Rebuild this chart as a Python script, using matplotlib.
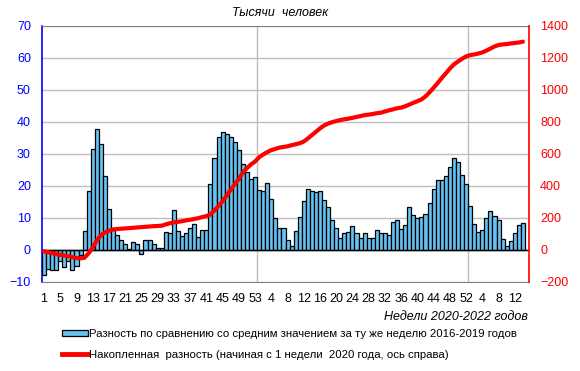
import matplotlib
matplotlib.use("Agg")
import matplotlib.pyplot as plt
import numpy as np
from matplotlib.patches import Patch
from matplotlib.lines import Line2D

plt.rcParams['font.family'] = ['Liberation Sans', 'DejaVu Sans']

# week numbers for each category (2020: 53 weeks, 2021: 52 weeks, 2022: 14 weeks)
weeks_2020 = list(range(1, 54))
weeks_2021 = list(range(1, 53))
weeks_2022 = list(range(1, 15))
week_labels = weeks_2020 + weeks_2021 + weeks_2022

# weekly difference vs 2016-2019 average (thousands)
diff_2020 = [-7.7, -5.9, -6.4, -6.2, -3.5, -5.3, -3.3, -6.2, -5.1, -1.5,
             5.8, 18.5, 31.7, 37.7, 33.0, 23.0, 12.9, 6.9, 4.8, 3.2,
             1.9, 0.4, 2.5, 1.8, -1.2, 3.1, 3.1, 1.8, 0.6, 0.6,
             5.6, 5.3, 12.6, 5.8, 4.5, 5.3, 6.9, 8.1, 4.2, 6.3,
             6.3, 20.6, 28.6, 35.2, 37.0, 36.3, 35.2, 33.8, 31.2, 26.9,
             24.5, 22.2, 22.9]
diff_2021 = [18.8, 18.3, 20.9, 15.9, 10.0, 6.9, 6.9, 3.0, 1.4, 5.8,
             10.3, 15.4, 19.0, 18.5, 18.1, 18.5, 15.7, 13.3, 9.4, 6.9,
             3.9, 5.3, 5.6, 7.6, 5.3, 3.9, 5.3, 3.7, 3.7, 6.1,
             5.3, 5.3, 4.7, 8.9, 9.4, 6.5, 7.8, 13.4, 10.8, 10.0,
             10.3, 11.2, 14.6, 19.0, 21.8, 21.8, 23.0, 25.9, 28.9, 27.5,
             23.5, 20.6]
diff_2022 = [13.6, 8.1, 5.6, 6.2, 10.0, 12.1, 10.6, 9.3, 3.4, 1.2,
             2.8, 5.3, 7.8, 8.4]

# cumulative difference since week 1 of 2020 (thousands, right axis)
cum_diff = [-8, -14, -20, -26, -30, -35, -39, -45, -50, -52,
            -48, -20, 15, 60, 92, 110, 120, 128, 131, 133,
            135, 137, 139, 141, 143, 145, 147, 149, 150, 152,
            160, 167, 173, 176, 180, 185, 189, 194, 199, 206,
            212, 222, 248, 275, 305, 340, 376, 411, 444, 484,
            512, 535, 553,
            580, 597, 612, 624, 632, 640, 644, 648, 655, 661,
            667, 678, 697, 718, 739, 760, 778, 790, 799, 806,
            812, 817, 821, 826, 832, 837, 843, 846, 850, 855,
            858, 866, 873, 879, 886, 890, 898, 909, 920, 930,
            941, 960, 986, 1014, 1044, 1075, 1104, 1134, 1160, 1178,
            1195, 1210,
            1218, 1222, 1228, 1235, 1246, 1259, 1272, 1281, 1285, 1287,
            1291, 1294, 1297, 1302]

diff = diff_2020 + diff_2021 + diff_2022
n_slots = len(diff) + 1  # one empty slot at the end of the axis
x = np.arange(len(diff))

fig = plt.figure(figsize=(5.8, 3.71), dpi=100)
ax = fig.add_axes([42/580, 1-282/371, (529-42)/580, (282-26)/371])

ax.bar(x, diff, width=1.0, color='#66C3F3', edgecolor='black', linewidth=0.9, zorder=3)
ax.axhline(0, color='black', lw=1.0, zorder=4)

ax.set_xlim(-0.5, n_slots - 0.5)
ax.set_ylim(-10, 70)
ax.set_yticks(np.arange(-10, 71, 10))
ax.yaxis.grid(True, color='#BEBEBE', lw=1.0, zorder=0)
for b in [len(diff_2020) - 0.5, len(diff_2020) + len(diff_2021) - 0.5]:
    ax.axvline(b, color='#BEBEBE', lw=1.0, zorder=0)

tick_pos = list(range(0, len(diff), 4))
ax.set_xticks(tick_pos)
ax.set_xticklabels([str(week_labels[i]) for i in tick_pos], fontsize=9)
ax.tick_params(axis='x', length=0, pad=8)
ax.tick_params(axis='y', length=0, labelsize=9, colors='#0000FF', pad=8)

ax.spines['left'].set_color('#0000FF')
ax.spines['left'].set_linewidth(1.2)
ax.spines['top'].set_color('#808080')
ax.spines['bottom'].set_color('#808080')
ax.spines['right'].set_visible(False)

ax2 = ax.twinx()
ax2.plot(x, cum_diff, color='#FF0000', lw=3.0, solid_capstyle='round', zorder=5)
ax2.set_ylim(-200, 1400)
ax2.set_yticks(np.arange(-200, 1401, 200))
ax2.tick_params(axis='y', length=0, labelsize=9, colors='#FF0000', pad=8)
ax2.spines['right'].set_color('#FF0000')
ax2.spines['right'].set_linewidth(1.2)
for s in ['left', 'top', 'bottom']:
    ax2.spines[s].set_visible(False)

fig.text(280/580, 1-13/371, 'Тысячи  человек', style='italic', fontsize=9,
         ha='center', va='center')
fig.text(528/580, 1-317/371, 'Недели 2020-2022 годов', style='italic', fontsize=9,
         ha='right', va='center')

handles = [Patch(facecolor='#66C3F3', edgecolor='black', linewidth=0.9),
           Line2D([0], [0], color='#FF0000', lw=3.5)]
labels = ['Разность по сравнению со средним значением за ту же неделю 2016-2019 годов',
          'Накопленная  разность (начиная с 1 недели  2020 года, ось справа)']
fig.legend(handles, labels, loc='upper left', bbox_to_anchor=(62/580, 1-329/371),
           frameon=False, fontsize=8.2, handlelength=2.3, handleheight=0.45,
           handletextpad=0.1, labelspacing=0.95, borderaxespad=0, borderpad=0)

fig.savefig('out.png', dpi=100)
